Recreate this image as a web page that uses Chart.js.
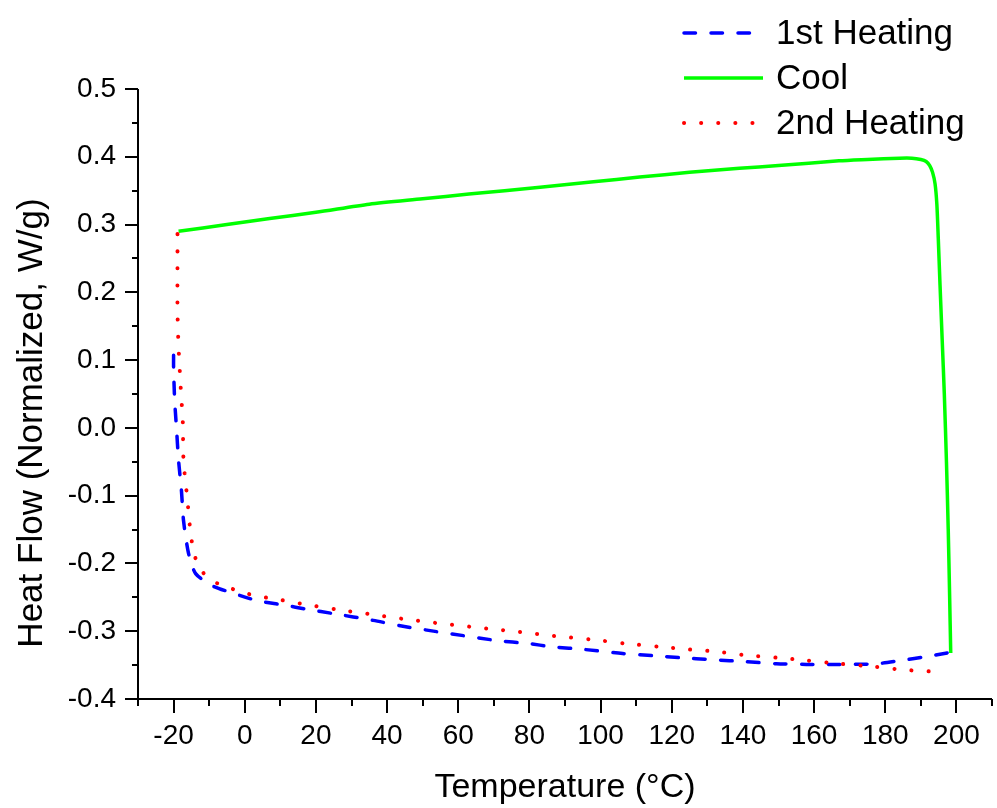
<!DOCTYPE html>
<html>
<head>
  <title>Heat Flow vs Temperature</title>
  <meta charset="utf-8" />
  <style>
    body {
      margin: 0;
      background: #fff;
    }
    #wrap {
      width: 997px;
      height: 808px;
    }
  </style>
</head>
<body>
  <div id="wrap"><canvas id="chart"></canvas></div>

  <script src="https://cdn.jsdelivr.net/npm/chart.js"></script>
  <script>
    // series: temperature (°C) and heat flow (W/g)
    const seriesNames = ['1st Heating', 'Cool', '2nd Heating'];
    const yTitle = 'Heat Flow (Normalized, W/g)';

    const heat1T  = [-20, -20, -19.7, -19.2, -18.6, -17.8, -17.2, -15.8, -13.8, -9.1, -3.2, 3.6, 10.6, 17.9, 24.9, 36.1, 43.7, 50.7, 58.3, 71.2, 79.3, 86.6, 95.6, 106.2, 114.6, 122.2, 131.5, 141, 149.4, 157.8, 167, 177.5, 184.5, 190.9, 197.4];
    const heat1HF = [0.107, 0.089, 0.041, 0.001, -0.048, -0.092, -0.137, -0.185, -0.215, -0.233, -0.244, -0.255, -0.261, -0.268, -0.274, -0.284, -0.292, -0.298, -0.304, -0.314, -0.318, -0.323, -0.327, -0.333, -0.336, -0.339, -0.342, -0.345, -0.348, -0.349, -0.349, -0.348, -0.343, -0.338, -0.332];

    const coolT  = [198.4, 198.1, 197.7, 197.2, 196.6, 196.0, 195.4, 194.9, 194.5, 194.0, 193.3, 192.5, 191.5, 190.0, 187.5, 184, 175, 167, 150, 139, 125, 111, 98, 83, 63, 50, 35, 20, 7, -5, -18.6];
    const coolHF = [-0.332, -0.25, -0.15, -0.05, 0.05, 0.13, 0.21, 0.28, 0.33, 0.36, 0.377, 0.387, 0.393, 0.396, 0.398, 0.398, 0.396, 0.394, 0.387, 0.383, 0.377, 0.370, 0.363, 0.355, 0.345, 0.338, 0.330, 0.318, 0.309, 0.300, 0.290];

    const heat2T  = [-18.9, -18.9, -18.9, -18.6, -18.0, -17.4, -17.2, -16.1, -15.2, -14.4, -13.3, -10.5, -7.4, -0.4, 4.4, 9.2, 17.6, 26, 36.7, 46.2, 55.7, 68.1, 77.3, 86.9, 97, 106.8, 116.6, 125, 132.6, 139.9, 149.4, 157.8, 167, 176.4, 185.3, 194.9];
    const heat2HF = [0.286, 0.258, 0.174, 0.119, 0.06, 0.007, -0.048, -0.107, -0.156, -0.181, -0.2, -0.221, -0.23, -0.243, -0.249, -0.253, -0.261, -0.268, -0.276, -0.283, -0.289, -0.296, -0.301, -0.307, -0.312, -0.318, -0.323, -0.327, -0.33, -0.335, -0.339, -0.343, -0.348, -0.352, -0.357, -0.36];

    const toPoints = (xs, ys) => xs.map((x, i) => ({ x: x, y: ys[i] }));

    Chart.defaults.font.family = '"Liberation Sans", Arial, sans-serif';
    Chart.defaults.color = '#000';

    // axis lines, outward major/minor ticks, y title and the legend
    const axesAndLegend = {
      id: 'axesAndLegend',
      afterDraw(chart) {
        const ctx = chart.ctx;
        const xs = chart.scales.x;
        const ys = chart.scales.y;
        const left = xs.left, right = xs.right, bottom = ys.bottom, top = ys.top;
        ctx.save();
        ctx.strokeStyle = '#000';
        ctx.lineWidth = 2;
        ctx.beginPath();
        ctx.moveTo(left, top);
        ctx.lineTo(left, bottom);
        ctx.lineTo(right, bottom);
        ctx.stroke();

        ctx.beginPath();
        for (let v = -30; v <= 210; v += 10) {
          const px = Math.round(xs.getPixelForValue(v));
          const len = (v % 20 === 0) ? 14 : 7;
          ctx.moveTo(px, bottom);
          ctx.lineTo(px, bottom + len);
        }
        for (let k = -8; k <= 10; k++) {
          const py = Math.round(ys.getPixelForValue(k * 0.05));
          const len = (k % 2 === 0) ? 13 : 6;
          ctx.moveTo(left, py);
          ctx.lineTo(left - len, py);
        }
        ctx.stroke();

        // y axis title (sits a bit below the axis middle in the original)
        ctx.save();
        ctx.translate(32, 423);
        ctx.rotate(-Math.PI / 2);
        ctx.fillStyle = '#000';
        ctx.font = '35px "Liberation Sans", Arial, sans-serif';
        ctx.textAlign = 'center';
        ctx.textBaseline = 'middle';
        ctx.fillText(yTitle, 0, 0);
        ctx.restore();

        // legend
        const rows = [33, 78, 123];
        chart.data.datasets.forEach((ds, i) => {
          const y = rows[i];
          ctx.beginPath();
          ctx.strokeStyle = ds.borderColor;
          ctx.lineWidth = ds.borderWidth;
          ctx.lineCap = ds.borderCapStyle || 'butt';
          ctx.setLineDash(ds.borderDash || []);
          ctx.moveTo(684, y);
          ctx.lineTo(763, y);
          ctx.stroke();
          ctx.setLineDash([]);
          ctx.fillStyle = '#000';
          ctx.font = '35px "Liberation Sans", Arial, sans-serif';
          ctx.textAlign = 'left';
          ctx.textBaseline = 'middle';
          ctx.fillText(ds.label, 776, y + 1);
        });
        ctx.restore();
      }
    };

    new Chart(document.getElementById('chart'), {
      type: 'line',
      data: {
        datasets: [
          {
            label: seriesNames[0],
            data: toPoints(heat1T, heat1HF),
            borderColor: '#0000ff',
            borderWidth: 3.5,
            borderDash: [11.5, 15.5],
            borderCapStyle: 'round',
            order: 2
          },
          {
            label: seriesNames[1],
            data: toPoints(coolT, coolHF),
            borderColor: '#00ff00',
            borderWidth: 3.5,
            order: 3
          },
          {
            label: seriesNames[2],
            data: toPoints(heat2T, heat2HF),
            borderColor: '#ff0000',
            borderWidth: 4,
            borderDash: [0.1, 17],
            borderCapStyle: 'round',
            order: 1
          }
        ]
      },
      options: {
        responsive: true,
        maintainAspectRatio: false,
        animation: false,
        layout: { padding: { top: 89, right: 5, left: 0, bottom: 0 } },
        elements: {
          point: { radius: 0 },
          line: { tension: 0.25, fill: false }
        },
        plugins: {
          legend: { display: false },
          tooltip: { enabled: false }
        },
        scales: {
          x: {
            type: 'linear',
            min: -30,
            max: 210,
            border: { display: false },
            grid: { display: false, drawTicks: false },
            ticks: {
              stepSize: 10,
              autoSkip: false,
              maxRotation: 0,
              padding: 20,
              font: { size: 28 },
              callback: v => (v % 20 === 0 ? String(v) : '')
            },
            title: {
              display: true,
              text: 'Temperature (°C)',
              font: { size: 34 },
              padding: { top: 0, bottom: 0 }
            },
            afterFit: s => {
              s.height = 109;
              s.paddingLeft = 0;
              s.paddingRight = 0;
            }
          },
          y: {
            type: 'linear',
            min: -0.4,
            max: 0.5,
            border: { display: false },
            grid: { display: false, drawTicks: false },
            ticks: {
              stepSize: 0.1,
              padding: 22,
              font: { size: 28 },
              callback: v => v.toFixed(1)
            },
            title: { display: false },
            afterFit: s => {
              s.width = 138;
              s.paddingTop = 0;
              s.paddingBottom = 0;
            }
          }
        }
      },
      plugins: [axesAndLegend]
    });
  </script>
</body>
</html>
